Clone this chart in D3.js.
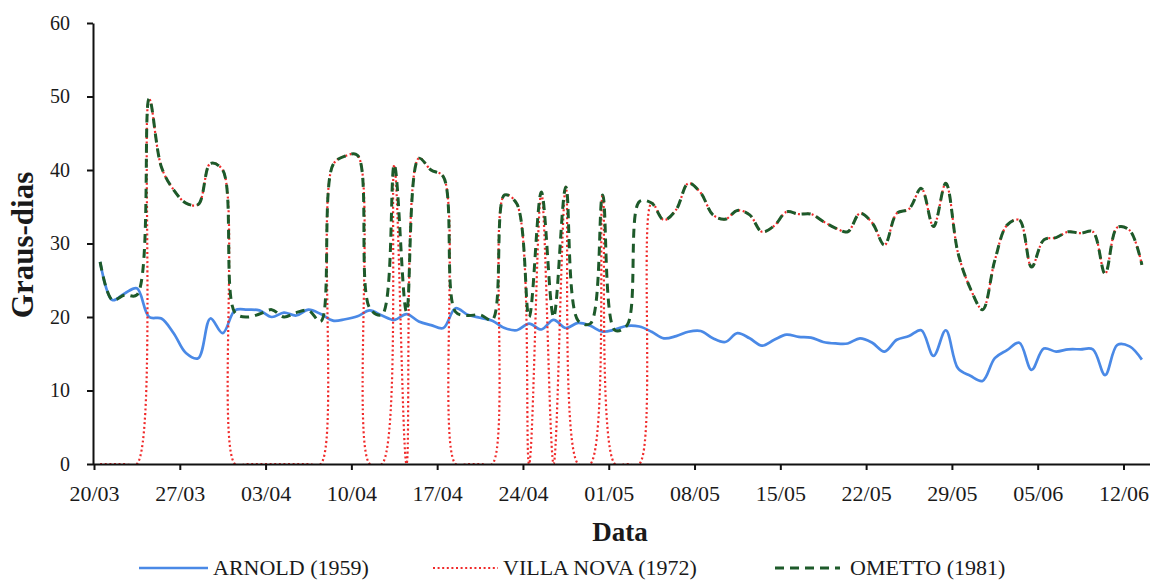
<!DOCTYPE html>
<html><head><meta charset="utf-8">
<script src="https://cdn.jsdelivr.net/npm/d3@7"></script>
<style>
body{margin:0;background:#fff}
text{font-family:"Liberation Serif","Times New Roman",serif;fill:#1a1a1a}
</style>
</head><body>
<svg id="chart" width="1160" height="581"></svg>
<script>
// ---- data ----
const firstDay = "20/03/2019";
const dayAfterLast = "14/06/2019";
const tickLabels = ["20/03","27/03","03/04","10/04","17/04","24/04","01/05","08/05","15/05","22/05","29/05","05/06","12/06"];
const yTicks = [0,10,20,30,40,50,60];
const seriesNames = ["ARNOLD (1959)","VILLA NOVA (1972)","OMETTO (1981)"];

const arnold = [27.5,22.3,23.2,23.9,20.0,19.8,17.8,15.1,14.4,19.8,17.8,20.9,21.0,20.9,20.0,20.6,20.2,21.0,20.4,19.5,
  19.7,20.1,20.9,20.2,19.6,20.4,19.4,18.9,18.5,21.2,20.3,19.9,19.5,18.5,18.2,19.1,18.3,19.6,18.5,19.2,
  18.8,18.0,18.3,18.8,18.7,18.0,17.1,17.4,18.0,18.1,17.1,16.6,17.8,17.1,16.1,16.9,17.6,17.3,17.2,16.6,
  16.4,16.4,17.1,16.5,15.3,16.9,17.4,18.2,14.7,18.2,13.0,12.0,11.3,14.4,15.5,16.5,12.8,15.7,15.3,15.6,
  15.6,15.6,12.1,16.2,16.0,14.2];

const villaNova = [0,0,0,0,49.7,40.4,37.3,35.5,35.3,40.9,40.0,0,0,0,0,0,0,0,0,40.7,
  41.9,42.0,0,0,40.7,0,41.6,40.0,39.1,0,0,0,0,36.6,35.4,0,37.0,0,37.7,0,
  0,36.6,0,0,0,35.5,33.2,34.6,38.2,36.9,33.9,33.3,34.5,33.9,31.6,32.4,34.3,34.0,34.0,33.0,
  32.1,31.6,34.1,32.8,29.8,34.1,34.7,37.5,32.3,38.2,28.7,23.9,21.0,27.7,32.5,33.2,26.8,30.5,30.8,31.6,
  31.4,31.6,25.9,32.2,31.8,27.1];

const ometto = [27.5,22.3,23.0,23.0,49.7,40.4,37.3,35.5,35.3,40.9,40.0,20.6,20.0,20.4,21.0,20.0,20.6,20.9,19.4,40.7,
  41.9,42.0,21.2,20.3,40.7,20.7,41.6,40.0,39.1,20.7,20.2,20.3,19.6,36.6,35.4,20.0,37.0,20.0,37.7,19.5,
  19.1,36.6,18.2,18.9,35.7,35.5,33.2,34.6,38.2,36.9,33.9,33.3,34.5,33.9,31.6,32.4,34.3,34.0,34.0,33.0,
  32.1,31.6,34.1,32.8,29.8,34.1,34.7,37.5,32.3,38.2,28.7,23.9,21.0,27.7,32.5,33.2,26.8,30.5,30.8,31.6,
  31.4,31.6,25.9,32.2,31.8,27.1];

// ---- setup ----
const parse = d3.timeParse("%d/%m/%Y");
const days = d3.timeDay.range(parse(firstDay), parse(dayAfterLast));
const tickDates = tickLabels.map(t => parse(t + "/2019"));

const svg = d3.select("#chart");
const L = 94, R = 1148, T = 23, B = 464;

const x = d3.scaleTime().domain([parse(firstDay), parse(dayAfterLast)]).range([L, R]);
const y = d3.scaleLinear().domain([0, 60]).range([B, T]);

svg.append("defs").append("clipPath").attr("id","plotclip")
  .append("rect").attr("x", L).attr("y", 0).attr("width", R - L + 4).attr("height", B);

const styles = [
  {data: arnold,    color: "#4a89e6", width: 2.7, dash: null},
  {data: villaNova, color: "#f02a2a", width: 2.2, dash: "2,2.6"},
  {data: ometto,    color: "#1d5a2a", width: 3.0, dash: "9,6"}
];

const line = d3.line()
  .x((d, i) => x(d3.timeHour.offset(days[i], 12)))
  .y(d => y(d))
  .curve(d3.curveCatmullRom.alpha(0.5));

const g = svg.append("g").attr("clip-path", "url(#plotclip)");
styles.forEach(s => {
  g.append("path")
    .attr("d", line(s.data))
    .attr("fill", "none")
    .attr("stroke", s.color)
    .attr("stroke-width", s.width)
    .attr("stroke-dasharray", s.dash)
    .attr("stroke-linejoin", "round");
});

// ---- axes ----
const xAxis = d3.axisBottom(x).tickValues(tickDates)
  .tickFormat((d, i) => tickLabels[i]).tickSize(6).tickPadding(4).tickSizeOuter(0);
const gx = svg.append("g").attr("transform", `translate(0,${B})`).call(xAxis);
gx.select(".domain").attr("d", `M${L - 1},0.5H1150`).attr("stroke", "#111").attr("stroke-width", 2);
gx.selectAll(".tick line").attr("stroke", "#111").attr("stroke-width", 2);
gx.selectAll(".tick text").attr("font-size", 22).attr("font-family", '"Liberation Serif",serif')
  .attr("fill", "#1a1a1a").attr("y", 21).attr("dy", "0.71em");

const yAxis = d3.axisLeft(y).tickValues(yTicks).tickSize(6).tickPadding(17).tickSizeOuter(0);
const gy = svg.append("g").attr("transform", `translate(${L - 1},0)`).call(yAxis);
gy.select(".domain").attr("stroke", "#111").attr("stroke-width", 2);
gy.selectAll(".tick line").attr("stroke", "#111").attr("stroke-width", 2);
gy.selectAll(".tick text").attr("font-size", 20).attr("font-family", '"Liberation Serif",serif').attr("fill", "#1a1a1a");

// ---- titles ----
svg.append("text").attr("x", 620).attr("y", 541).attr("text-anchor", "middle")
  .attr("font-size", 27).attr("font-weight", "bold").text("Data");
svg.append("text").attr("transform", "translate(33,245) rotate(-90)").attr("text-anchor", "middle")
  .attr("font-size", 31).attr("font-weight", "bold").text("Graus-dias");

// ---- legend ----
const legendPos = [{x1: 139, x2: 208, tx: 213}, {x1: 433, x2: 498, tx: 503}, {x1: 775, x2: 840, tx: 850}];
const legendDash = [null, "2,2.6", "9,6"];
seriesNames.forEach((name, i) => {
  const p = legendPos[i];
  svg.append("line").attr("x1", p.x1).attr("x2", p.x2).attr("y1", 568).attr("y2", 568)
    .attr("stroke", styles[i].color).attr("stroke-width", styles[i].width)
    .attr("stroke-dasharray", legendDash[i]);
  svg.append("text").attr("x", p.tx).attr("y", 575).attr("font-size", 22).text(name);
});
</script>
</body></html>
